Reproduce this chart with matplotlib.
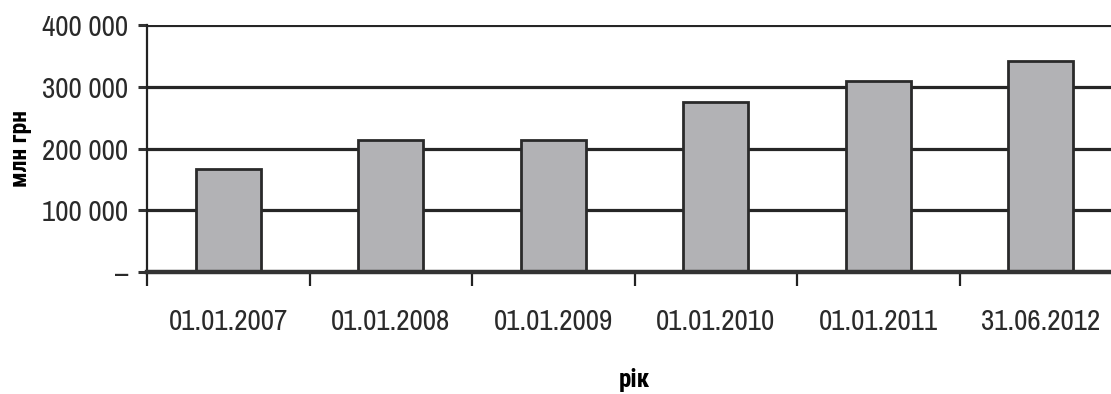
import matplotlib
matplotlib.use("Agg")
import matplotlib.pyplot as plt
from matplotlib.transforms import ScaledTranslation
import numpy as np

# Дані: обсяг, млн грн
dates = ['01.01.2007', '01.01.2008', '01.01.2009', '01.01.2010', '01.01.2011', '31.06.2012']
values = [166000, 214000, 214000, 276000, 310000, 342000]
yticks = [0, 100000, 200000, 300000, 400000]
ytick_labels = ['–', '100 000', '200 000', '300 000', '400 000']

narrow = ['Archivo Narrow', 'Roboto Condensed', 'DejaVu Sans']
bold_narrow = ['Roboto Condensed', 'DejaVu Sans']
plt.rcParams['font.family'] = narrow

fig = plt.figure(figsize=(11.11, 3.94), dpi=100)
ax = fig.add_axes([147 / 1111, 122 / 394, 975 / 1111, 247 / 394])

x = np.arange(len(dates))
ax.bar(x, values, width=0.4, color='#b2b2b5', edgecolor='#2a2a2a',
       linewidth=2.0, zorder=3)

ax.set_xlim(-0.5, len(dates) - 0.5)
ax.set_ylim(0, 400000)

# сітка
ax.set_yticks(yticks)
ax.set_yticklabels(ytick_labels, fontsize=21, color='#2a2a2a')
for v in yticks[1:]:
    lw = 3.0 if v == 400000 else 2.3
    ax.axhline(v, color='#262626', linewidth=lw, zorder=1)
# риска "нуля" трохи нижче осі
zero_lbl = ax.get_yticklabels()[0]
zero_lbl.set_transform(zero_lbl.get_transform()
                       + ScaledTranslation(0, -0.05, fig.dpi_scale_trans))

# підписи категорій по центру, штрихи на межах
ax.set_xticks(np.arange(len(dates) + 1) - 0.5)
ax.set_xticklabels([])
ax.set_xticks(x, minor=True)
ax.set_xticklabels(dates, minor=True, fontsize=21, color='#2a2a2a')
ax.tick_params(axis='x', which='major', direction='out', length=10, width=1.6, color='#222222')
ax.tick_params(axis='x', which='minor', length=0, pad=26)
ax.tick_params(axis='y', direction='out', length=6.5, width=2.2, color='#333333', pad=7)

for s in ['top', 'right']:
    ax.spines[s].set_visible(False)
ax.spines['left'].set_linewidth(1.6)
ax.spines['left'].set_color('#222222')
ax.spines['bottom'].set_linewidth(3.2)
ax.spines['bottom'].set_color('#333333')
ax.spines['bottom'].set_zorder(4)

ax.set_ylabel('млн грн', fontsize=17, fontweight='bold', family=bold_narrow)
ax.yaxis.label.set_va('center')
ax.yaxis.set_label_coords(-0.130, 0.50)
ax.set_xlabel('рік', fontsize=18, fontweight='bold', family=bold_narrow)
ax.xaxis.set_label_coords(0.5, -0.39)

fig.savefig('out.png', dpi=100, facecolor='white')
